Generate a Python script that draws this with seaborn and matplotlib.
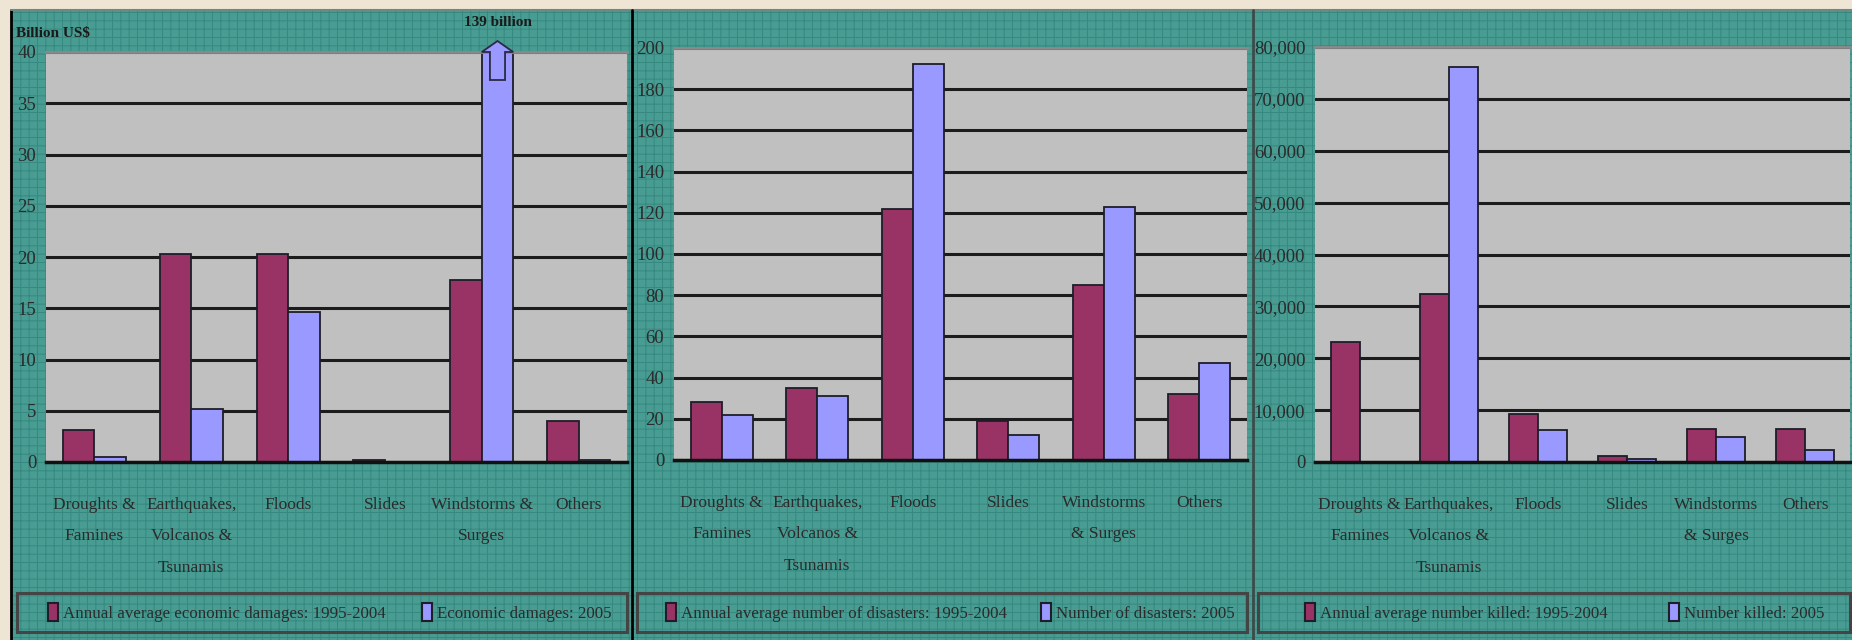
import matplotlib
matplotlib.use("Agg")
import matplotlib.pyplot as plt
from matplotlib.patches import Rectangle, Patch, Polygon
from matplotlib.lines import Line2D
import seaborn as sns
import pandas as pd
import numpy as np

# ---------------- data ----------------
categories_1 = ["Droughts &\nFamines", "Earthquakes,\nVolcanos &\nTsunamis", "Floods",
                "Slides", "Windstorms &\nSurges", "Others"]
categories_23 = ["Droughts &\nFamines", "Earthquakes,\nVolcanos &\nTsunamis", "Floods",
                 "Slides", "Windstorms\n& Surges", "Others"]

damages_avg = [3.1, 20.3, 20.3, 0.2, 17.8, 4.0]
damages_2005 = [0.5, 5.2, 14.6, 0.0, 139.0, 0.2]

disasters_avg = [28, 35, 122, 19, 85, 32]
disasters_2005 = [22, 31, 192, 12, 123, 47]

killed_avg = [23050, 32440, 9200, 1100, 6430, 6430]
killed_2005 = [0, 76240, 6170, 650, 4870, 2270]

legend_1 = ["Annual average economic damages: 1995-2004", "Economic damages: 2005"]
legend_2 = ["Annual average number of disasters: 1995-2004", "Number of disasters: 2005"]
legend_3 = ["Annual average number killed: 1995-2004", "Number killed: 2005"]

yticks_1 = [0, 5, 10, 15, 20, 25, 30, 35, 40]
yticks_2 = [0, 20, 40, 60, 80, 100, 120, 140, 160, 180, 200]
yticks_3 = [0, 10000, 20000, 30000, 40000, 50000, 60000, 70000, 80000]
ytick_labels_3 = ["0", "10,000", "20,000", "30,000", "40,000", "50,000", "60,000", "70,000", "80,000"]

# ---------------- style ----------------
sns.set_style("white")
plt.rcParams["font.family"] = ["Liberation Serif", "DejaVu Serif"]
plt.rcParams["hatch.linewidth"] = 0.7

MAROON = "#993366"
BLUE = "#9999ff"
TEXT = "#2b2b2b"
W, H = 1852, 640

fig = plt.figure(figsize=(W / 100, H / 100), dpi=100)
fig.patch.set_facecolor("#eee5d5")

def fx(x):
    return x / W

def fy(y):
    return 1 - y / H

# teal patterned background
bg = Rectangle((fx(11), 0), 1 - fx(11), fy(10), transform=fig.transFigure,
               facecolor="#489c92", edgecolor="#358980", hatch="++", lw=0, zorder=-10)
fig.patches.append(bg)
# frame lines
fig.add_artist(Line2D([fx(11), fx(11)], [0, fy(10)], transform=fig.transFigure, color="black", lw=2))
fig.add_artist(Line2D([fx(11), 1], [fy(10), fy(10)], transform=fig.transFigure, color="#6a8a86", lw=1.5))
fig.add_artist(Line2D([fx(632), fx(632)], [0, fy(10)], transform=fig.transFigure, color="black", lw=2))
fig.add_artist(Line2D([fx(1253), fx(1253)], [0, fy(10)], transform=fig.transFigure, color="#3c4c4a", lw=2))


def make_panel(rect, cats, s1, s2, labels, ylim, yticks, yticklabels, box_rect, marker_x):
    x0, y0, x1, y1 = rect
    ax = fig.add_axes([fx(x0), fy(y1), fx(x1 - x0), (y1 - y0) / H])
    df = pd.DataFrame({
        "category": cats * 2,
        "value": list(s1) + list(s2),
        "series": [labels[0]] * len(cats) + [labels[1]] * len(cats),
    })
    sns.barplot(data=df, x="category", y="value", hue="series", order=cats,
                hue_order=labels, palette=[MAROON, BLUE], width=0.65, gap=0,
                edgecolor="#1e1e2a", linewidth=1.3, saturation=1, legend=False, ax=ax)
    ax.set_facecolor("#c0c0c0")
    ax.set_ylim(*ylim)
    ax.set_xlim(-0.5, len(cats) - 0.5)
    ax.set_yticks(yticks)
    ax.set_yticklabels(yticklabels, fontsize=13.5, color=TEXT)
    ax.set_xticks(range(len(cats)))
    ax.set_xticklabels(cats, fontsize=12.5, color=TEXT, linespacing=2.3, va="top")
    ax.tick_params(axis="x", which="major", length=0, pad=25)
    ax.set_xticks(np.arange(-0.5, len(cats), 1.0), minor=True)
    ax.tick_params(axis="x", which="minor", length=7, width=2, color="#111111", direction="out")
    ax.tick_params(axis="y", length=4, width=2, color="#111111", pad=3)
    ax.set_xlabel("")
    ax.set_ylabel("")
    ax.yaxis.grid(True, color="#1c1c1c", lw=2.2)
    ax.set_axisbelow(True)
    for s in ["left", "right"]:
        ax.spines[s].set_visible(False)
    ax.spines["top"].set_color("#8a8a8a")
    ax.spines["top"].set_linewidth(2)
    ax.spines["bottom"].set_color("#111111")
    ax.spines["bottom"].set_linewidth(2.5)
    # legend frame
    bx0, by0, bx1, by1 = box_rect
    fig.patches.append(Rectangle((fx(bx0), fy(by1)), fx(bx1 - bx0), (by1 - by0) / H,
                                 transform=fig.transFigure, facecolor="none",
                                 edgecolor="#444444", lw=2.2))
    colors = [MAROON, BLUE]
    ymid = fy((by0 + by1) / 2)
    for i in range(2):
        h = [Patch(facecolor=colors[i], edgecolor="#1e1e2a", lw=1.5)]
        leg = fig.legend(h, [labels[i]], loc="center left",
                         bbox_to_anchor=(fx(marker_x[i]), ymid),
                         bbox_transform=fig.transFigure, frameon=False,
                         fontsize=12.2, handlelength=0.6, handleheight=1.2, handletextpad=0.3,
                         borderpad=0, borderaxespad=0)
        for t in leg.get_texts():
            t.set_color(TEXT)
    return ax


ax1 = make_panel((46, 52, 627, 462), categories_1, damages_avg, damages_2005, legend_1,
                 (0, 40), yticks_1, [str(v) for v in yticks_1], (17, 593, 627, 632), (48, 422))
ax2 = make_panel((674, 48, 1247, 460), categories_23, disasters_avg, disasters_2005, legend_2,
                 (0, 200), yticks_2, [str(v) for v in yticks_2], (637, 593, 1247, 632), (666, 1041))
ax3 = make_panel((1315, 47, 1850, 462), categories_23, killed_avg, killed_2005, legend_3,
                 (0, 80000), yticks_3, ytick_labels_3, (1258, 593, 1850, 632), (1305, 1669))

# arrow for the off-scale bar in panel 1
top = 40
for p in ax1.patches:
    if p.get_height() > top:
        bx0 = p.get_x()
        bw = p.get_width()
        bx1 = bx0 + bw
        cx = bx0 + bw / 2
        sw = bw * 0.24
        tip = top * (1 + 11 / 410)
        sb = top * (1 - 28 / 410)
        poly = Polygon([(cx - sw, sb), (cx + sw, sb), (cx + sw, top), (bx1, top),
                        (cx, tip), (bx0, top), (cx - sw, top)], closed=True,
                       facecolor=BLUE, edgecolor="#2a2a44", lw=1.3, clip_on=False, zorder=5)
        ax1.add_patch(poly)
        ax1.annotate("139 billion", xy=(cx, tip), xytext=(0, 9), textcoords="offset points",
                     ha="center", va="bottom", fontsize=11, fontweight="bold", color="#1a1a1a",
                     annotation_clip=False)
        break

fig.text(fx(16), fy(33), "Billion US$", ha="left", va="center", fontsize=11,
         fontweight="bold", color="#1a1a1a")

fig.savefig("out.png", dpi=100, facecolor=fig.get_facecolor())
